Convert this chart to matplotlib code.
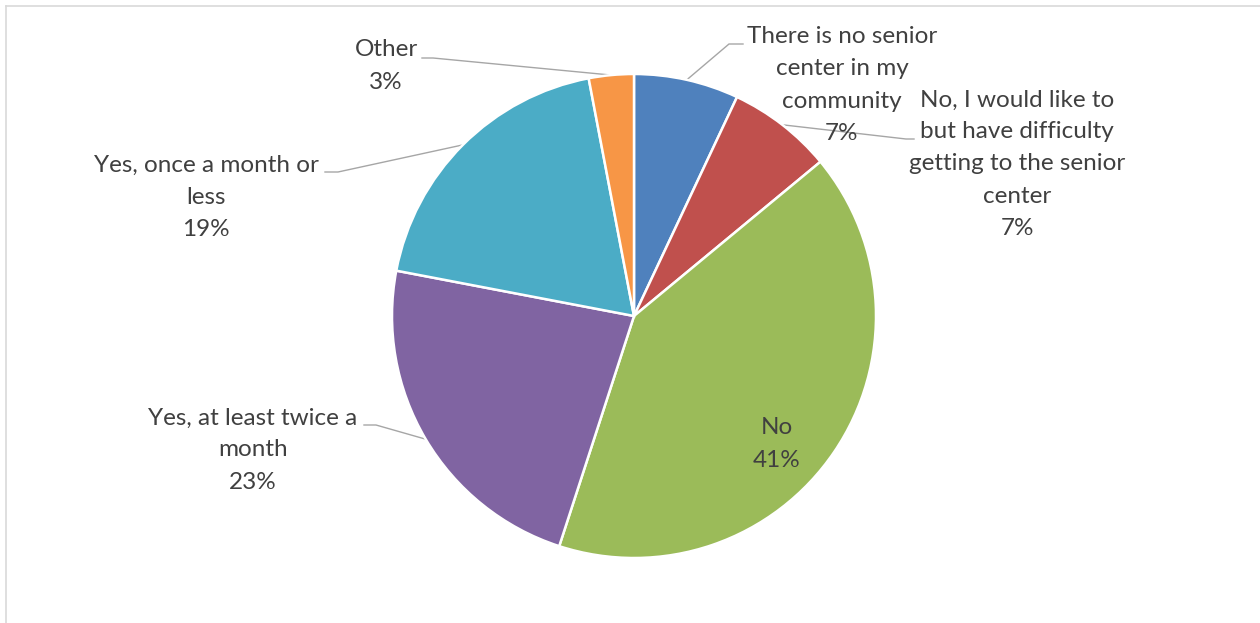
import numpy as np
import matplotlib
matplotlib.use("Agg")
import matplotlib.pyplot as plt
from matplotlib.lines import Line2D

plt.rcParams['font.family'] = ['Lato', 'DejaVu Sans']

# survey answers, clockwise from 12 o'clock
labels = [
    "There is no senior\ncenter in my\ncommunity",
    "No, I would like to\nbut have difficulty\ngetting to the senior\ncenter",
    "No",
    "Yes, at least twice a\nmonth",
    "Yes, once a month or\nless",
    "Other",
]
shares = [7, 7, 41, 23, 19, 3]
colors = ["#4F81BD", "#C0504D", "#9BBB59", "#8064A2", "#4BACC6", "#F79646"]

# label placement (pixel layout of the 1260x623 canvas, y from top)
text_pos = [(842, 85), (1017, 164), (777, 444), (253, 450), (206, 197), (386, 66)]
elbow = [(729, 44), (906, 139), None, (376, 425), (338, 172), (433, 58)]
tail = [(743, 44), (914, 139), None, (364, 425), (325, 172), (422, 58)]

W, H = 1260, 623
cx, cy, R = 634, 316, 242
text_color = "#404040"
line_color = "#A6A6A6"

fig = plt.figure(figsize=(W / 100, H / 100), dpi=100)
ax = fig.add_axes([0, 0, 1, 1])

wedges, _ = ax.pie(
    shares, colors=colors, startangle=90, counterclock=False,
    center=(cx, H - cy), radius=R,
    wedgeprops=dict(edgecolor="white", linewidth=1.8),
)
ax.set_xlim(0, W)
ax.set_ylim(0, H)
ax.set_aspect("auto")
ax.axis("off")

for w, lab, val, tp, el, tl in zip(wedges, labels, shares, text_pos, elbow, tail):
    mid = np.deg2rad((w.theta1 + w.theta2) / 2)
    txt = f"{lab}\n{val}%"
    ax.text(tp[0], H - tp[1], txt, ha="center", va="center", fontsize=17.5,
            color=text_color, linespacing=1.65)
    if el is None:
        continue
    # leader line from the wedge edge to the label
    ex, ey = cx + R * np.cos(mid), (H - cy) + R * np.sin(mid)
    ax.plot([ex, el[0], tl[0]], [ey, H - el[1], H - tl[1]],
            color=line_color, lw=1.0, solid_joinstyle="miter", zorder=0.5)

# chart area border (top and left edges)
fig.add_artist(Line2D([6 / W, 1], [1 - 6 / H, 1 - 6 / H], color="#D9D9D9", lw=1.2))
fig.add_artist(Line2D([6 / W, 6 / W], [0, 1 - 6 / H], color="#D9D9D9", lw=1.2))

fig.savefig("out.png", dpi=100, facecolor="white")
